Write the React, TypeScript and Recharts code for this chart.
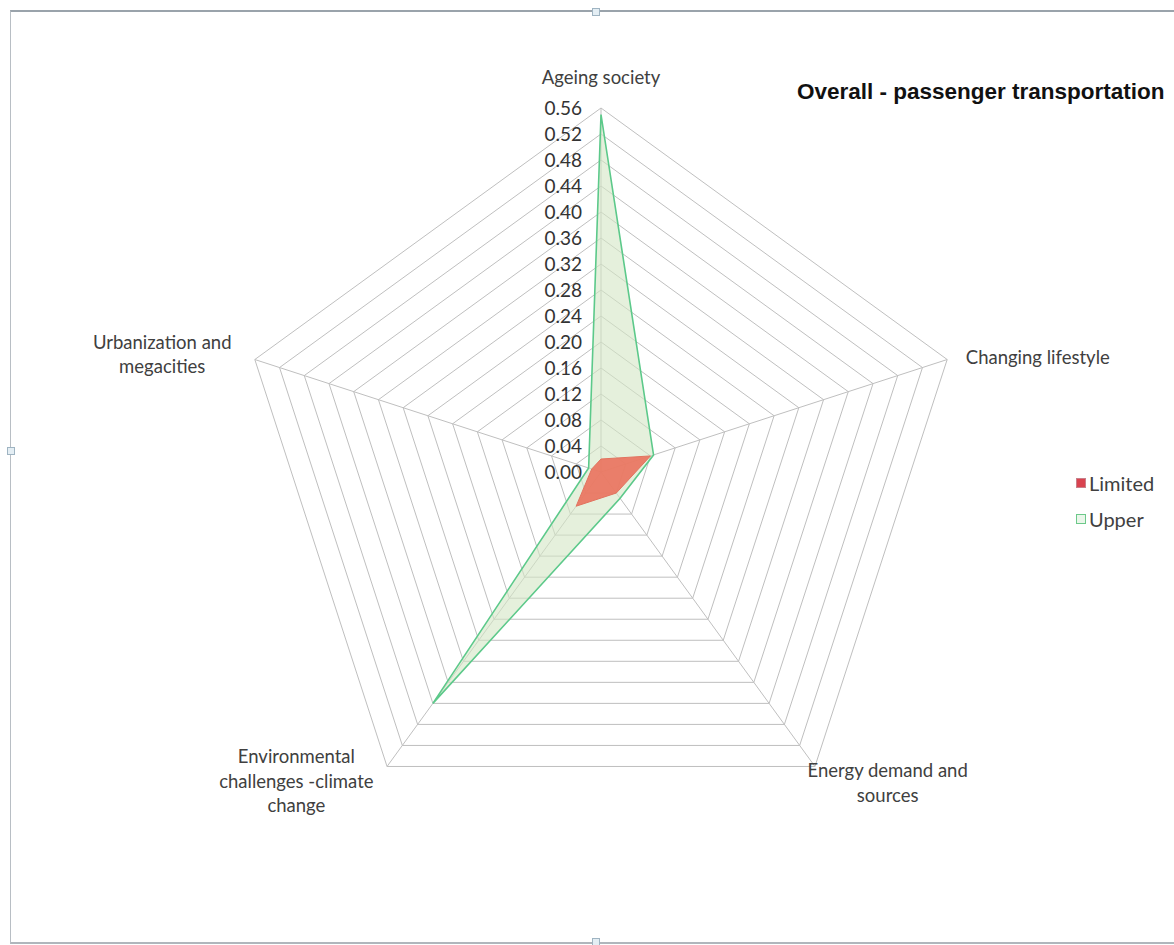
import {
  RadarChart,
  Radar,
  PolarGrid,
  PolarAngleAxis,
  PolarRadiusAxis,
  Legend,
} from 'recharts';

const categories = [
  'Ageing society',
  'Changing lifestyle',
  'Energy demand and sources',
  'Environmental challenges -climate change',
  'Urbanization and megacities',
];

// label lines per spoke, same order as categories
const categoryLines = [
  ['Ageing society'],
  ['Changing lifestyle'],
  ['Energy demand and', 'sources'],
  ['Environmental', 'challenges -climate', 'change'],
  ['Urbanization and', 'megacities'],
];

const limited = [0.02, 0.08, 0.04, 0.065, 0.015];
const upper = [0.55, 0.085, 0.05, 0.44, 0.02];

const radiusMax = 0.56;
const radiusTickCount = 15; // 0.00 .. 0.56 in steps of 0.04

const data = categories.map((name, i) => ({
  name,
  Limited: limited[i],
  Upper: upper[i],
}));

const FONT = 'Lato, "Open Sans", sans-serif';

// where each spoke label sits relative to its tick point
const labelLayout = [
  { dx: 0, dy: -22, anchor: 'middle' },
  { dx: 11, dy: 0, anchor: 'start' },
  { dx: 68, dy: -2, anchor: 'middle' },
  { dx: -86, dy: -16, anchor: 'middle' },
  { dx: -85, dy: -15, anchor: 'middle' },
];

function AngleTick(props: any) {
  const { x, y, index } = props;
  const lay = labelLayout[index] ?? { dx: 0, dy: 0, anchor: 'middle' };
  const lines = categoryLines[index] ?? [props.payload?.value];
  return (
    <text
      x={x + lay.dx}
      y={y + lay.dy}
      textAnchor={lay.anchor}
      fill="#404040"
      fontSize={18.5}
      fontFamily={FONT}
    >
      {lines.map((l: string, k: number) => (
        <tspan key={k} x={x + lay.dx} dy={k === 0 ? '0.35em' : 24.5}>
          {l}
        </tspan>
      ))}
    </text>
  );
}

function RadiusTick(props: any) {
  const { x, y, payload } = props;
  return (
    <text
      x={x - 19}
      y={y}
      dy="0.35em"
      textAnchor="end"
      fill="#333"
      fontSize={19}
      fontFamily={FONT}
    >
      {Number(payload.value).toFixed(2)}
    </text>
  );
}

function LegendBox() {
  return (
    <div style={{ fontFamily: FONT, fontSize: 20, color: '#404040' }}>
      <div style={{ display: 'flex', alignItems: 'center', height: 24 }}>
        <span
          style={{
            width: 8,
            height: 8,
            background: '#d9434f',
            border: '1px solid #c8808a',
            marginRight: 3,
          }}
        />
        Limited
      </div>
      <div style={{ display: 'flex', alignItems: 'center', height: 24, marginTop: 12 }}>
        <span
          style={{
            width: 8,
            height: 8,
            background: '#eaf6ea',
            border: '1px solid #6cc98a',
            marginRight: 3,
          }}
        />
        Upper
      </div>
    </div>
  );
}

const handle = (left: number, top: number) => (
  <div
    style={{
      position: 'absolute',
      left,
      top,
      width: 6,
      height: 6,
      background: '#e4eef4',
      border: '1px solid #9fb4c2',
    }}
  />
);

export default function App() {
  return (
    <div
      style={{
        position: 'absolute',
        left: 0,
        top: 0,
        width: 1174,
        height: 945,
        background: '#fff',
        overflow: 'hidden',
      }}
    >
      <div
        style={{
          position: 'absolute',
          left: 10,
          top: 10,
          width: 1180,
          height: 930,
          borderTop: '2px solid #9aa3ab',
          borderLeft: '1px solid #b8bec4',
          borderBottom: '2px solid #b0b6bc',
        }}
      />
      {handle(592, 8)}
      {handle(7, 447)}
      {handle(592, 938)}
      <div
        style={{
          position: 'absolute',
          left: 797,
          top: 79,
          fontFamily: '"Liberation Sans", Arial, sans-serif',
          fontWeight: 'bold',
          fontSize: 22.5,
          color: '#111',
          whiteSpace: 'nowrap',
        }}
      >
        Overall - passenger transportation
      </div>
      <RadarChart
        width={1174}
        height={945}
        data={data}
        cx={601}
        cy={472}
        outerRadius={364}
        margin={{ top: 0, right: 0, bottom: 0, left: 0 }}
      >
        <PolarGrid gridType="polygon" stroke="#bfbfbf" strokeWidth={1} />
        <PolarAngleAxis
          dataKey="name"
          tick={AngleTick}
          tickLine={false}
          axisLine={false}
        />
        <PolarRadiusAxis
          angle={90}
          type="number"
          domain={[0, radiusMax]}
          allowDecimals
          allowDataOverflow
          tickCount={radiusTickCount}
          tick={RadiusTick}
          axisLine={false}
          tickLine={false}
        />
        <Radar
          name="Upper"
          dataKey="Upper"
          stroke="#5cc98a"
          strokeWidth={1.6}
          fill="#d4e6c4"
          fillOpacity={0.6}
          isAnimationActive={false}
          dot={false}
        />
        <Radar
          name="Limited"
          dataKey="Limited"
          stroke="#e2735f"
          strokeWidth={1}
          fill="#ea7460"
          fillOpacity={0.92}
          isAnimationActive={false}
          dot={false}
        />
        <Legend
          content={LegendBox}
          wrapperStyle={{ position: 'absolute', left: 1076, top: 471, width: 100 }}
        />
      </RadarChart>
    </div>
  );
}
